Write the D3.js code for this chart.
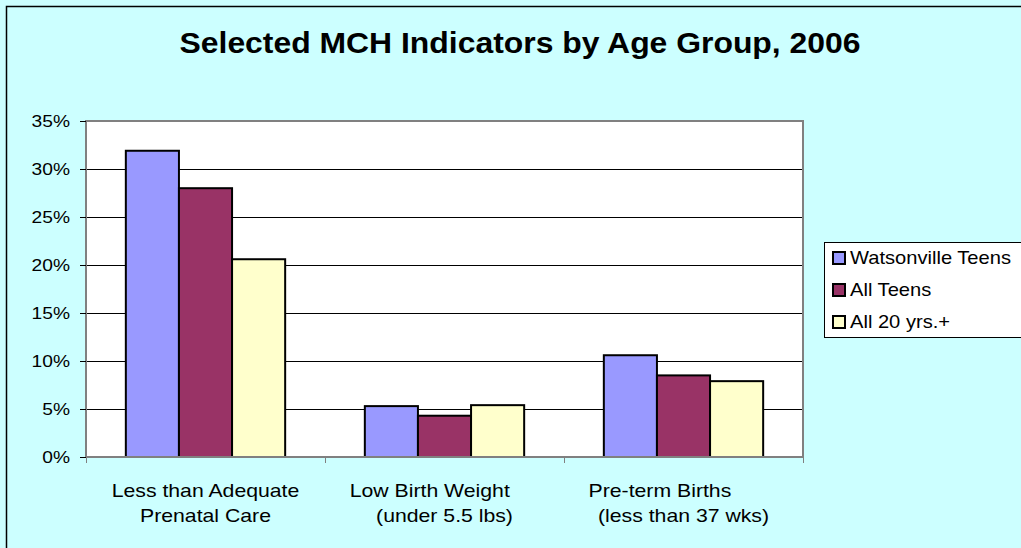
<!DOCTYPE html>
<html>
<head>
<meta charset="utf-8">
<script src="https://cdn.jsdelivr.net/npm/d3@7"></script>
<style>
  html, body { margin: 0; padding: 0; background: #ccffff; }
  svg { display: block; }
  text { font-family: "Liberation Sans", Arial, sans-serif; fill: #000; white-space: pre; }
</style>
</head>
<body>
<svg id="chart"></svg>
<script>
// Chart data
const categories = [
  ['Less than Adequate', 'Prenatal Care'],
  ['Low Birth Weight     ', '(under 5.5 lbs)'],
  ['Pre-term Births        ', '(less than 37 wks)']
];
const seriesNames = ['Watsonville Teens', 'All Teens', 'All 20 yrs.+'];
const seriesColors = ['#9999ff', '#993366', '#ffffcc'];
const watsonvilleTeens = [31.9, 5.3, 10.6];
const allTeens = [28.0, 4.3, 8.5];
const all20Plus = [20.6, 5.4, 7.9];
const yTicks = [0, 5, 10, 15, 20, 25, 30, 35];

const seriesValues = [watsonvilleTeens, allTeens, all20Plus];

const width = 1021, height = 548;
const plot = { left: 86, right: 803, top: 121, bottom: 457 };
const sx = 1.18; // source chart was stretched horizontally

const svg = d3.select('#chart').attr('width', width).attr('height', height);

// Background + outer frame
svg.append('rect').attr('width', width).attr('height', height).attr('fill', '#ccffff');
svg.append('rect')
  .attr('x', 6.5).attr('y', 6.5)
  .attr('width', width + 20).attr('height', height + 20)
  .attr('fill', 'none').attr('stroke', '#000').attr('stroke-width', 1.5);

// helper for horizontally stretched text
function stext(g, x, y, str, size, anchor, weight, scaleX) {
  return g.append('text')
    .attr('transform', `translate(${x},${y}) scale(${scaleX || sx},1)`)
    .attr('text-anchor', anchor || 'start')
    .attr('font-size', size)
    .attr('font-weight', weight || 'normal')
    .attr('xml:space', 'preserve')
    .text(str);
}

// Title
stext(svg, (178 + 862) / 2, 53, 'Selected MCH Indicators by Age Group, 2006', 29, 'middle', 'bold', 1.1);

// Scales
const x0 = d3.scaleBand().domain(d3.range(categories.length)).range([plot.left, plot.right]).padding(0);
const x1 = d3.scaleBand().domain(d3.range(seriesNames.length)).range([0, x0.bandwidth()])
  .paddingInner(0).paddingOuter(0.75);
const y = d3.scaleLinear().domain([0, 35]).range([plot.bottom, plot.top]);

// Plot area
svg.append('rect')
  .attr('x', plot.left).attr('y', plot.top)
  .attr('width', plot.right - plot.left).attr('height', plot.bottom - plot.top)
  .attr('fill', '#fff');

// Gridlines
svg.append('g').selectAll('line').data(yTicks.filter(d => d > 0 && d < 35)).join('line')
  .attr('x1', plot.left).attr('x2', plot.right)
  .attr('y1', d => Math.round(y(d)) + 0.5).attr('y2', d => Math.round(y(d)) + 0.5)
  .attr('stroke', '#000').attr('stroke-width', 1);

// Plot border (gray)
svg.append('rect')
  .attr('x', plot.left).attr('y', plot.top)
  .attr('width', plot.right - plot.left).attr('height', plot.bottom - plot.top)
  .attr('fill', 'none').attr('stroke', '#808080').attr('stroke-width', 2);

// Bars
seriesValues.forEach((vals, si) => {
  svg.append('g').selectAll('rect').data(vals).join('rect')
    .attr('x', (d, i) => x0(i) + x1(si))
    .attr('y', d => y(d))
    .attr('width', x1.bandwidth())
    .attr('height', d => y(0) - y(d))
    .attr('fill', seriesColors[si])
    .attr('stroke', '#000')
    .attr('stroke-width', 2);
});

// Y axis
const yAxis = svg.append('g');
yAxis.append('line')
  .attr('x1', plot.left).attr('x2', plot.left)
  .attr('y1', plot.top).attr('y2', plot.bottom)
  .attr('stroke', '#808080').attr('stroke-width', 2);
yTicks.forEach(t => {
  const yy = Math.round(y(t)) + 0.5;
  yAxis.append('line').attr('x1', plot.left - 6).attr('x2', plot.left)
    .attr('y1', yy).attr('y2', yy).attr('stroke', '#000');
  stext(yAxis, 70, yy + 5.5, t + '%', 16, 'end', 'normal', 1.2);
});

// X axis
const xAxis = svg.append('g');
xAxis.append('line')
  .attr('x1', plot.left).attr('x2', plot.right)
  .attr('y1', plot.bottom).attr('y2', plot.bottom)
  .attr('stroke', '#808080').attr('stroke-width', 2);
d3.range(categories.length + 1).forEach(i => {
  const xx = Math.round(i < categories.length ? x0(i) : plot.right) + 0.5;
  xAxis.append('line').attr('x1', xx).attr('x2', xx)
    .attr('y1', plot.bottom).attr('y2', plot.bottom + 6).attr('stroke', '#808080');
});
categories.forEach((lines, i) => {
  const cx = x0(i) + x0.bandwidth() / 2;
  lines.forEach((ln, j) => stext(xAxis, cx, 497 + j * 25, ln, 18, 'middle'));
});

// Legend
const legend = svg.append('g');
legend.append('rect')
  .attr('x', 824.5).attr('y', 242.5).attr('width', 220).attr('height', 95)
  .attr('fill', '#fff').attr('stroke', '#000').attr('stroke-width', 1);
seriesNames.forEach((name, i) => {
  const cy = 258 + i * 32;
  legend.append('rect')
    .attr('x', 833).attr('y', cy - 6).attr('width', 12).attr('height', 12)
    .attr('fill', seriesColors[i]).attr('stroke', '#000').attr('stroke-width', 2);
  stext(legend, 850, cy + 6, name, 17.5, 'start', 'normal', 1.15);
});
</script>
</body>
</html>
